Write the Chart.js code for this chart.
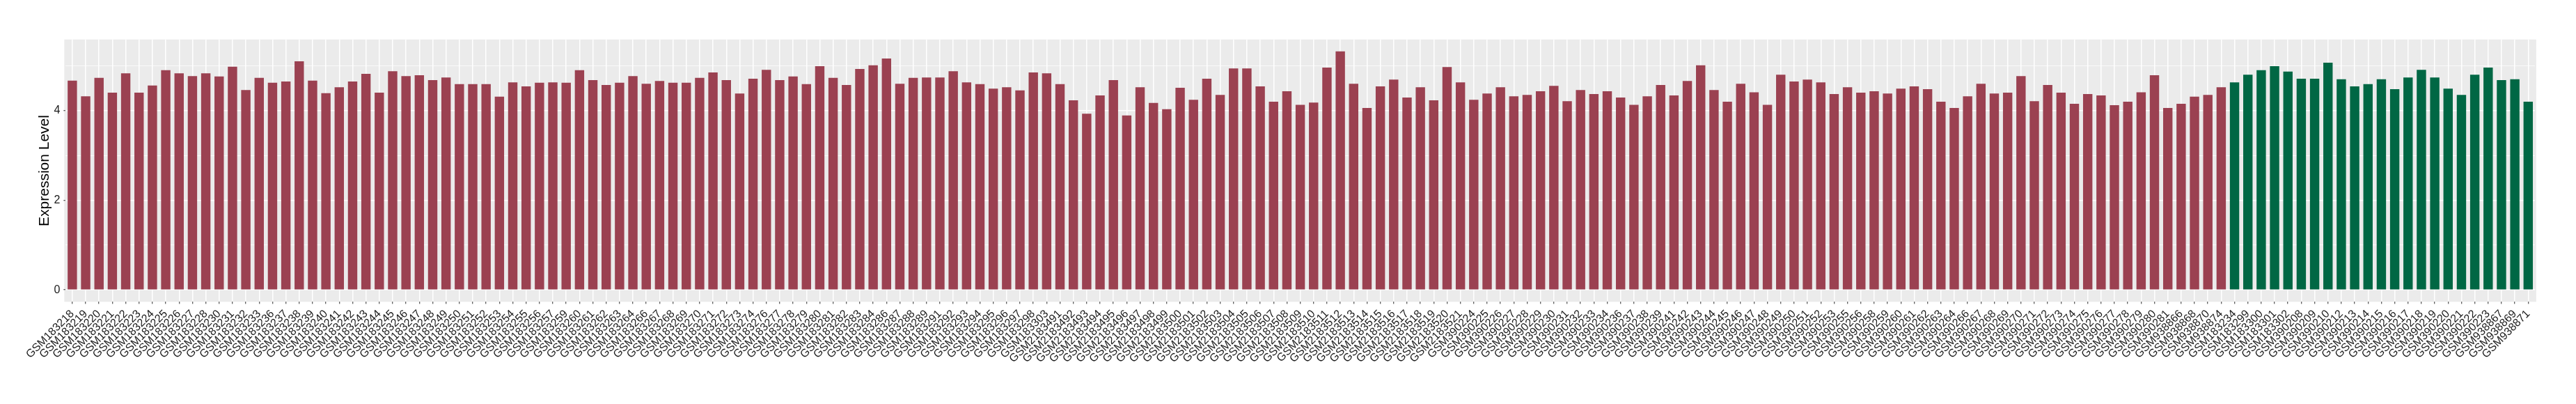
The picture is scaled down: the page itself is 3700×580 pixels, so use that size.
<!DOCTYPE html>
<html>
<head>
<meta charset="utf-8">
<script src="https://cdn.jsdelivr.net/npm/chart.js@4.4.1/dist/chart.umd.min.js"></script>
<style>
html,body{margin:0;padding:0;background:#ffffff;}
#wrap{width:3700px;height:580px;position:relative;}
</style>
</head>
<body>
<div id="wrap"><canvas id="c" width="3700" height="580"></canvas></div>
<script>
// ---- data ----
const groupASamples = [
"GSM183218","GSM183219","GSM183220","GSM183221","GSM183222","GSM183223","GSM183224","GSM183225","GSM183226","GSM183227",
"GSM183228","GSM183230","GSM183231","GSM183232","GSM183233","GSM183236","GSM183237","GSM183238","GSM183239","GSM183240",
"GSM183241","GSM183242","GSM183243","GSM183244","GSM183245","GSM183246","GSM183247","GSM183248","GSM183249","GSM183250",
"GSM183251","GSM183252","GSM183253","GSM183254","GSM183255","GSM183256","GSM183257","GSM183259","GSM183260","GSM183261",
"GSM183262","GSM183263","GSM183264","GSM183266","GSM183267","GSM183268","GSM183269","GSM183270","GSM183271","GSM183272",
"GSM183273","GSM183274","GSM183276","GSM183277","GSM183278","GSM183279","GSM183280","GSM183281","GSM183282","GSM183283",
"GSM183284","GSM183286","GSM183287","GSM183288","GSM183289","GSM183291","GSM183292","GSM183293","GSM183294","GSM183295",
"GSM183296","GSM183297","GSM183298","GSM183303","GSM2183491","GSM2183492","GSM2183493","GSM2183494","GSM2183495","GSM2183496",
"GSM2183497","GSM2183498","GSM2183499","GSM2183500","GSM2183501","GSM2183502","GSM2183503","GSM2183504","GSM2183505","GSM2183506",
"GSM2183507","GSM2183508","GSM2183509","GSM2183510","GSM2183511","GSM2183512","GSM2183513","GSM2183514","GSM2183515","GSM2183516",
"GSM2183517","GSM2183518","GSM2183519","GSM2183520","GSM2183521","GSM390224","GSM390225","GSM390226","GSM390227","GSM390228",
"GSM390229","GSM390230","GSM390231","GSM390232","GSM390233","GSM390234","GSM390236","GSM390237","GSM390238","GSM390239",
"GSM390241","GSM390242","GSM390243","GSM390244","GSM390245","GSM390246","GSM390247","GSM390248","GSM390249","GSM390250",
"GSM390251","GSM390252","GSM390253","GSM390255","GSM390256","GSM390258","GSM390259","GSM390260","GSM390261","GSM390262",
"GSM390263","GSM390264","GSM390266","GSM390267","GSM390268","GSM390269","GSM390270","GSM390271","GSM390272","GSM390273",
"GSM390274","GSM390275","GSM390276","GSM390277","GSM390278","GSM390279","GSM390280","GSM390281","GSM938866","GSM938868",
"GSM938870","GSM938874"
];
const groupAValues = [
4.67,4.32,4.73,4.40,4.83,4.40,4.56,4.90,4.83,4.77,
4.83,4.76,4.98,4.46,4.73,4.62,4.65,5.10,4.67,4.39,
4.52,4.65,4.82,4.40,4.88,4.77,4.79,4.68,4.74,4.59,
4.59,4.59,4.31,4.63,4.54,4.62,4.63,4.62,4.90,4.68,
4.57,4.62,4.77,4.60,4.66,4.62,4.62,4.73,4.85,4.68,
4.38,4.71,4.91,4.68,4.76,4.59,4.99,4.73,4.57,4.93,
5.01,5.16,4.60,4.73,4.74,4.74,4.88,4.63,4.59,4.49,
4.52,4.45,4.85,4.83,4.59,4.23,3.93,4.34,4.68,3.89,
4.52,4.17,4.03,4.51,4.24,4.71,4.35,4.94,4.94,4.54,
4.20,4.43,4.13,4.18,4.96,5.32,4.60,4.06,4.54,4.69,
4.29,4.52,4.23,4.97,4.63,4.24,4.38,4.52,4.32,4.35,
4.43,4.55,4.21,4.46,4.37,4.43,4.29,4.13,4.32,4.57,
4.34,4.66,5.01,4.46,4.20,4.60,4.41,4.13,4.80,4.65,
4.69,4.63,4.37,4.52,4.40,4.43,4.38,4.49,4.54,4.48,
4.20,4.06,4.32,4.60,4.38,4.40,4.77,4.21,4.57,4.40,
4.15,4.37,4.34,4.12,4.20,4.41,4.79,4.06,4.15,4.31,
4.35,4.52
];
const groupBSamples = [
"GSM183234","GSM183299","GSM183300","GSM183301","GSM183302","GSM390208","GSM390209","GSM390210","GSM390212","GSM390213",
"GSM390214","GSM390215","GSM390216","GSM390217","GSM390218","GSM390219","GSM390220","GSM390221","GSM390222","GSM390223",
"GSM938867","GSM938869","GSM938871"
];
const groupBValues = [
4.63,4.80,4.90,4.99,4.87,4.71,4.71,5.07,4.70,4.54,
4.59,4.70,4.48,4.74,4.91,4.74,4.49,4.35,4.80,4.96,
4.68,4.70,4.20
];
const yTickValues = [0, 1, 2, 3, 4, 5];
const yTickLabels = ["0", "", "2", "", "4", ""];
const yAxisTitle = "Expression Level";

// ---- build ----
const colorA = "#9B4151";
const colorB = "#006744";
const categories = groupASamples.concat(groupBSamples);
const values = groupAValues.concat(groupBValues);
const barColors = groupAValues.map(() => colorA).concat(groupBValues.map(() => colorB));
const maxVal = Math.max(...values);

const FONT = "'Liberation Sans', Arial, 'DejaVu Sans', sans-serif";
const TEXT = "#1a1a1a";

const panelBg = {
  id: "panelBg",
  beforeDraw(chart) {
    const { ctx, chartArea: a } = chart;
    const cw = (a.right - a.left) / categories.length;
    const ext = 0.1 * cw;
    ctx.save();
    ctx.fillStyle = "#EBEBEB";
    ctx.fillRect(a.left - ext, a.top, (a.right - a.left) + 2 * ext, a.bottom - a.top);
    ctx.restore();
  }
};

new Chart(document.getElementById("c"), {
  type: "bar",
  data: {
    labels: categories,
    datasets: [{
      data: values,
      backgroundColor: barColors,
      borderWidth: 0,
      barPercentage: 0.7,
      categoryPercentage: 1.0
    }]
  },
  options: {
    responsive: false,
    animation: false,
    devicePixelRatio: 1,
    layout: { padding: { top: 56.7, right: 59.1, bottom: 0, left: 0 } },
    plugins: { legend: { display: false }, tooltip: { enabled: false }, title: { display: false } },
    scales: {
      x: {
        type: "category",
        offset: true,
        border: { display: false },
        grid: {
          display: true,
          offset: false,
          color: "#FFFFFF",
          lineWidth: 1.5,
          drawTicks: true,
          tickLength: 3,
          tickColor: "#333333",
          tickWidth: 1
        },
        ticks: {
          autoSkip: false,
          maxRotation: 45,
          minRotation: 45,
          padding: 5,
          color: TEXT,
          font: { family: FONT, size: 16 }
        },
        afterFit(s) { s.height = 580 - 433.3; }
      },
      y: {
        type: "linear",
        min: -0.05 * maxVal,
        max: 1.05 * maxVal,
        border: { display: false },
        afterBuildTicks(s) { s.ticks = yTickValues.map(v => ({ value: v })); },
        grid: {
          color: "#FFFFFF",
          lineWidth: (c) => (c.tick && c.tick.value % 2 === 0 ? 1.5 : 0.75),
          drawTicks: true,
          tickLength: 3,
          tickWidth: 1,
          tickColor: (c) => (c.tick && c.tick.value % 2 === 0 ? "#333333" : "rgba(0,0,0,0)")
        },
        ticks: {
          padding: 5,
          color: TEXT,
          font: { family: FONT, size: 16 },
          callback: (v) => { const i = yTickValues.indexOf(v); return i >= 0 ? yTickLabels[i] : ""; }
        },
        title: {
          display: true,
          text: yAxisTitle,
          color: "#000000",
          font: { family: FONT, size: 21 },
          padding: { top: 51.4, bottom: 0 }
        },
        afterFit(s) { s.width = 94.3; }
      }
    }
  },
  plugins: [panelBg]
});
</script>
</body>
</html>
